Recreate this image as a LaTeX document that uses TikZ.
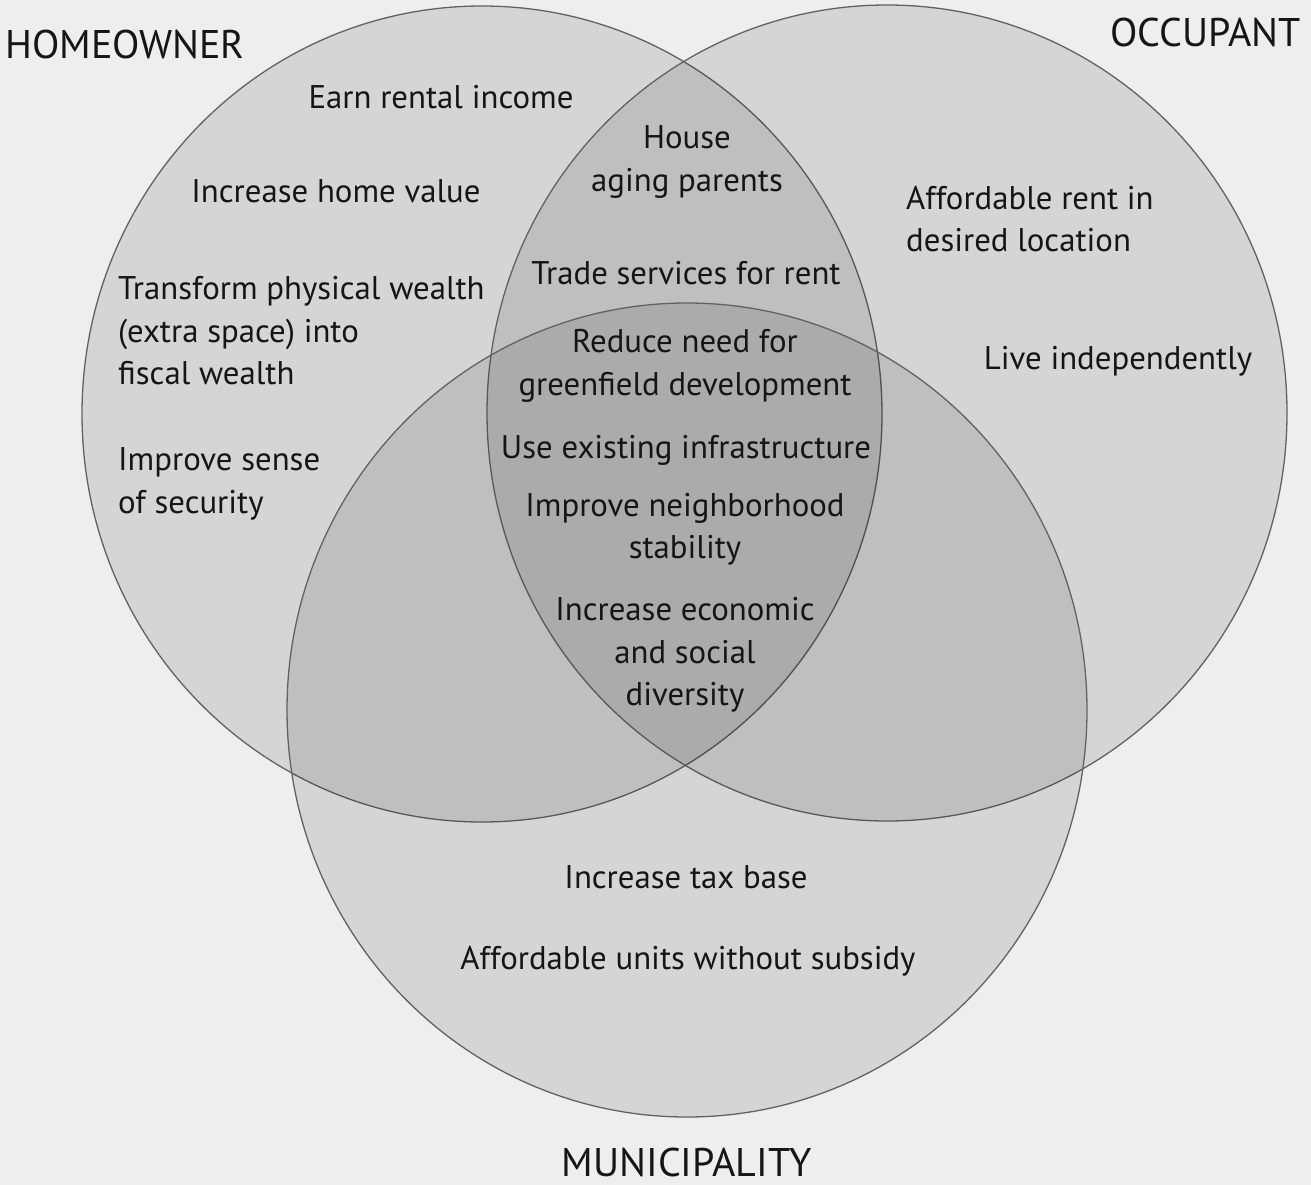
\documentclass[tikz,border=0pt]{standalone}
\usepackage{fontspec}
\setmainfont{PT Sans}
\begin{document}
\begin{tikzpicture}[x=1pt,y=-1pt,
  set/.style={fill=black,fill opacity=0.1,draw=ringgray,draw opacity=1,line width=1.3pt},
  lbl/.style={text=inkblack,font=\fontsize{32.8}{42.5}\selectfont,inner sep=0pt},
  title/.style={text=inkblack,font=\fontsize{40}{44}\selectfont,inner sep=0pt}]
\definecolor{paper}{HTML}{EEEEEE}
\definecolor{ringgray}{HTML}{626262}
\definecolor{inkblack}{HTML}{151515}
% page
\fill[paper] (0,0) rectangle (1311,1185);
\useasboundingbox (0,0) rectangle (1311,1185);
% the three sets
\path[set] (482,414) ellipse[x radius=400,y radius=408];
\path[set] (887,413) ellipse[x radius=400,y radius=408];
\path[set] (687,710) ellipse[x radius=400,y radius=407];
% set names
\node[title,anchor=west] (home) at (5,45) {HOMEOWNER};
\node[title,anchor=east] (occ) at (1301,33) {OCCUPANT};
\node[title] (muni) at (687,1162) {MUNICIPALITY};
% homeowner only
\node[lbl] (rent) at (441,97) {Earn rental income};
\node[lbl] (value) at (336,191) {Increase home value};
\node[lbl,anchor=west,align=left] (wealth) at (118,331) {Transform physical wealth\\(extra space) into\\fiscal wealth};
\node[lbl,anchor=west,align=left] (secure) at (118,484) {Improve sense\\of security};
% homeowner and occupant
\node[lbl,align=center] (parents) at (687,162) {House\\aging parents};
\node[lbl] (trade) at (686,273) {Trade services for rent};
% occupant only
\node[lbl,anchor=west,align=left] (afford) at (906,219) {Affordable rent in\\desired location};
\node[lbl] (indep) at (1118,361) {Live independently};
% all three
\node[lbl,align=center] (green) at (685,366) {Reduce need for\\greenfield development};
\node[lbl] (infra) at (686,450) {Use existing infrastructure};
\node[lbl,align=center] (stable) at (685,529) {Improve neighborhood\\stability};
\node[lbl,align=center] (divers) at (685,655) {Increase economic\\and social\\diversity};
% municipality only
\node[lbl] (tax) at (686,877) {Increase tax base};
\node[lbl] (units) at (688,961) {Affordable units without subsidy};
\end{tikzpicture}
\end{document}
